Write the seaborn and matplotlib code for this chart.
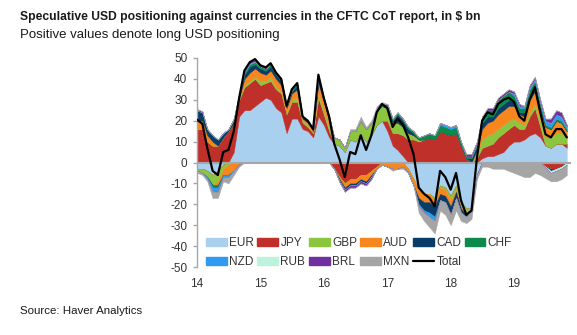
import numpy as np
import pandas as pd
import matplotlib
matplotlib.use("Agg")
import matplotlib.pyplot as plt
import matplotlib.dates as mdates
from matplotlib.patches import Patch
from matplotlib.lines import Line2D
import seaborn as sns

# ---------------- data (monthly, $ bn) ----------------
dates = pd.date_range("2014-01-01", periods=71, freq="MS")

EUR = [-3, -3, -4, -6, -4, -1, 0, 5, 22, 25, 25, 27, 29, 31, 30, 26, 24, 14, 21, 21,
       16, 15, 12, 22, 18, 12, 9, 8, 5, 11, 10, 14, 10, 13, 18, 20, 15, 8, 6, 3,
       -3, -8, -13, -15, -15, -17, -11, -12, -16, -11, -19, -22, -22, -6, 2, 3, 3, 4, 5, 8,
       10, 10, 11, 13, 14, 12, 8, 7, 9, 9, 7]
JPY = [16, 16, 10, 8, 8, 12, 15, 14, 8, 11, 13, 13, 8, 7, 9, 9, 9, 9, 8, 8,
       3, 2, 2, 9, 5, 3, -3, -7, -10, -8, -8, -6, -6, -4, -2, 0, 5, 6, 8, 10,
       11, 11, 10, 11, 12, 11, 15, 14, 13, 14, 8, 2, 0, 2, 5, 5, 6, 8, 9, 8,
       8, 6, 5, 9, 12, 5, -2, -3, -3, -2, 2]
GBP = [-1, -2, -3, -5, -5, -2, -1, 0, 1, 1, 1, 1, 2, 1, 2, 1, 1, 1, 1, 2,
       1, 1, 0, 2, 2, 2, 3, 3, 2, 4, 5, 6, 6, 6, 7, 7, 6, 5, 5, 4,
       3, 2, 1, 0, 0, -1, -1, -1, -2, -2, -2, -2, -1, 2, 4, 5, 5, 4, 4, 4,
       3, 3, 2, 2, 2, 3, 4, 5, 5, 5, 3]
AUD = [4, 4, 3, 2, -2, -3, -5, -4, -1, 3, 4, 4, 4, 3, 3, 4, 3, 2, 3, 4,
       1, 1, 1, 5, 4, 3, 0, -1, -2, -2, -2, -2, -3, -2, -1, -1, -2, -3, -3, -2,
       -2, -3, -4, -4, -4, -3, -3, -3, -3, -1, -1, -1, 0, 2, 5, 6, 6, 7, 7, 7,
       6, 4, 4, 6, 6, 5, 5, 4, 6, 5, 3]
CAD = [5, 4, 3, 3, 3, 2, 1, 1, 1, 2, 3, 2, 2, 2, 2, 2, 2, 1, 1, 2,
       1, 1, 1, 2, 2, 1, 0, -1, -1, -1, -1, -1, -1, -1, 0, 0, 1, 1, 4, 3,
       2, 1, -3, -4, -5, -5, -3, -3, -4, -3, -2, -1, 2, 2, 3, 3, 2, 3, 3, 3,
       2, 1, 2, 2, 2, 1, 0, -1, 0, 0, 0]
CHF = [0, 0, 0, -1, -1, 0, 0, 1, 1, 1, 1, 1, 1, 1, 1, 1, 1, 0, 1, 1,
       0, 0, 0, 1, 0, 1, 0, 0, 0, 0, 0, 0, 0, 0, 0, 1, 1, 1, 1, 1,
       1, 1, 1, 2, 2, 2, 3, 3, 3, 3, 2, 1, 1, 1, 2, 3, 3, 4, 4, 4,
       3, 2, 2, 3, 3, 2, 1, 1, 1, 1, 1]
NZD = [0, 0, -1, -2, -2, -1, -1, 0, 0, 0.5, 0.5, 0.5, 0, 0, 0, 0, 0, 0, 0, 0,
       0, 0, 0, 0.5, 0, 0, 0, 0, 0, 0, 0, 0, 0, 0, 0, 0, 0, 0, 0, 0,
       0, 0, -1, -1, -2, -2, 1, 1, 1, 1, 0, 0, 0, 0, 0, 0, 0, 0, 0, 0,
       1, 1, 1, 1, 1, 1, 2, 2, 2, 2, 1]
RUB = [0, 0, 0, 0, 0, 0, 0, 0, 0, 0, 0, 0, 0, 0, 0, 0, 0, 0, 0, 0,
       0, 0, 0, 0, 0, 0, 0, 0, 0, 0, 0, 0, 0, 0, 0, 0, 0, 0, 0, 0,
       0, 0, 0, 0, 0, 0, 0, 0, 0, 0, 0, 0, 0, 0, 0, 0, 0, 0, 0, 0,
       0, 0, 0, 0, 0, 0, -0.5, -1, -1, -1, -1]
BRL = [0.5, 0.5, 0, 0, 0, 0, 0, 0, 0, 0.5, 0.5, 1, 0.5, 0.5, 0.5, 0, 0, 0, 0, 0,
       0, 0, 0, 0.5, 0, 0, 0, -0.5, -1, -1, -1, -1, -1, -1, 0, 0, 0, 0, 0, 0,
       0, 0, 0, 0, 0, 0, 0, 0, 0, 0, 0, 1, 1, 1, 1, 1, 1, 1, 1, 1,
       1, 1, 0, 1, 1, 1, 1, 2, 2, 2, 1]
MXN = [-1, -1, -1, -3, -3, -2, -3, -2, -1, 0, 0, 0, 0, 0, 0, 0, 0, 0, 0, 0,
       0, 0, 0, 0, 0, 0, 0, 0, 0, 1, 1, 2, 1, 1, 2, 1, 0, -1, 0, -1,
       0, 0, -3, -4, -5, -6, -5, -6, -5, -6, -4, -3, -4, -2, -2, -2, -3, -3, -3, -4,
       -5, -6, -7, -7, -5, -6, -5, -4, -5, -5, -5]
TOTAL = [20.5, 18.5, 7, -4, -6, 5, 6, 15, 31, 44, 48, 49.5, 46.5, 45.5, 47.5, 43, 40, 27, 35, 38,
         22, 20, 16, 42, 31, 22, 9, 1.5, -7, 5, 4, 13, 6, 13, 24, 28, 26, 17, 21, 18,
         12, 4, -12, -15, -17, -21, -4, -7, -13, -5, -18, -25, -23, 2, 20, 24, 23, 28, 30, 31,
         29, 22, 20, 30, 36, 24, 13.5, 12, 16, 16, 12]

names = ["EUR", "JPY", "GBP", "AUD", "CAD", "CHF", "NZD", "RUB", "BRL", "MXN"]
values = [EUR, JPY, GBP, AUD, CAD, CHF, NZD, RUB, BRL, MXN]
palette = ["#A9D0EF", "#C0302B", "#8CC63F", "#F7861F", "#0B3C68",
           "#0B8A4B", "#2F9AF2", "#BDF2DC", "#7030A0", "#A5A5A5"]
y_ticks = [-50, -40, -30, -20, -10, 0, 10, 20, 30, 40, 50]

# ---------------- style ----------------
sns.set_style("white")
plt.rcParams["font.family"] = ["Liberation Sans", "DejaVu Sans"]

W, H = 577, 335
fig = plt.figure(figsize=(W / 100, H / 100), dpi=100)
ax = fig.add_axes([197 / W, 1 - 267 / H, (571 - 197) / W, (267 - 58) / H])

pos_base = np.zeros(len(dates))
neg_base = np.zeros(len(dates))
for name, vals, col in zip(names, values, palette):
    v = np.asarray(vals, dtype=float)
    p = np.clip(v, 0, None)
    q = np.clip(v, None, 0)
    ax.fill_between(dates, pos_base, pos_base + p, color=col, lw=0.3, ec=col)
    ax.fill_between(dates, neg_base, neg_base + q, color=col, lw=0.3, ec=col)
    pos_base = pos_base + p
    neg_base = neg_base + q

ax.axhline(0, color="#A6A6A6", lw=1.5, zorder=3)
df_total = pd.DataFrame({"date": dates, "Total": TOTAL})
sns.lineplot(data=df_total, x="date", y="Total", color="black", lw=1.6, ax=ax, zorder=4)

ax.set_xlim(dates[0], pd.Timestamp("2019-11-25"))
ax.set_ylim(-50, 50)
ax.set_yticks(y_ticks)
ax.set_yticklabels([str(t) for t in y_ticks])
ax.xaxis.set_major_locator(mdates.YearLocator())
ax.xaxis.set_major_formatter(mdates.DateFormatter("%y"))
ax.set_xlabel("")
ax.set_ylabel("")
for s in ["top", "right", "bottom"]:
    ax.spines[s].set_visible(False)
ax.spines["left"].set_color("#A6A6A6")
ax.spines["left"].set_linewidth(1.0)
ax.tick_params(axis="y", direction="out", length=3, width=1, color="#A6A6A6",
               labelsize=8.5, labelcolor="#333333", pad=4, left=True)
ax.tick_params(axis="x", length=0, labelsize=8.5, labelcolor="#333333", pad=8)
ax.grid(False)

# legend (6 columns, filled row by row)
handles = [Patch(facecolor=c, edgecolor=c) for c in palette] + [Line2D([], [], color="black", lw=1.6)]
labels = names + ["Total"]
ncol = 6
cols = [[] for _ in range(ncol)]
for i in range(len(labels)):
    cols[i % ncol].append(i)
flat = [i for c in cols for i in c]
leg = ax.legend([handles[i] for i in flat], [labels[i] for i in flat], ncol=ncol,
                loc="upper left", bbox_to_anchor=(206 / W, 1 - 237 / H),
                bbox_transform=fig.transFigure, frameon=False, fontsize=8.5,
                handlelength=1.75, handleheight=0.7, handletextpad=0.2,
                columnspacing=0.3, labelspacing=0.62, borderaxespad=0, borderpad=0)
for t in leg.get_texts():
    t.set_color("#333333")

# texts, fitted to the reference widths
def fitted_text(x, y, s, target_w, weight="normal", size0=10):
    t = fig.text(x / W, 1 - y / H, s, ha="left", va="center", fontsize=size0,
                 fontweight=weight, color="#1a1a1a")
    fig.canvas.draw()
    w = t.get_window_extent().width
    t.set_fontsize(size0 * target_w / w)
    return t

fitted_text(20, 17, "Speculative USD positioning against currencies in the CFTC CoT report, in $ bn",
            458, weight="bold")
fitted_text(20, 35, "Positive values denote long USD positioning", 262)
fitted_text(20, 311, "Source: Haver Analytics", 122)

fig.savefig("out.png", dpi=100)
